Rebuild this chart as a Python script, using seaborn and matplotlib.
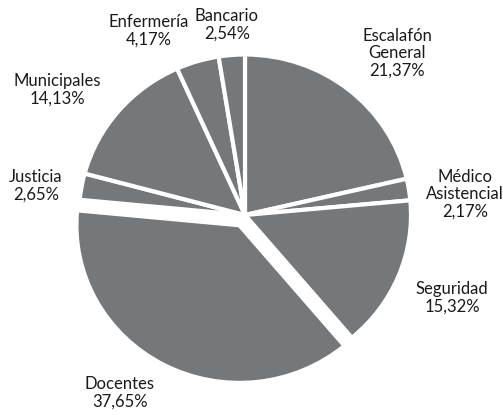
import matplotlib
matplotlib.use("Agg")
import matplotlib.pyplot as plt
import seaborn as sns

# Datos (porcentajes por sector)
sectores = ["Escalafón\nGeneral", "Médico\nAsistencial", "Seguridad", "Docentes",
            "Justicia", "Municipales", "Enfermería", "Bancario"]
porcentajes = [21.37, 2.17, 15.32, 37.65, 2.65, 14.13, 4.17, 2.54]
destacado = "Docentes"

# posición de las etiquetas (en píxeles desde arriba a la izquierda)
pos_etiquetas = [(397, 53), (465, 194), (452, 298), (120, 393),
                 (36, 186), (57, 90), (149, 31), (227, 25)]

sns.set_theme(style="white")
plt.rcParams['font.family'] = ['Lato', 'DejaVu Sans']

ancho, alto = 503, 415
sy = 160.5 / 166          # la torta original es un poco más ancha que alta
radio = 166
centro = (245, (alto - 215) / sy)

etiquetas = [f"{s}\n{p:.2f}%".replace('.', ',') for s, p in zip(sectores, porcentajes)]
# explode de matplotlib va en unidades de datos
explode = [12 if s == destacado else 0 for s in sectores]

fig = plt.figure(figsize=(ancho / 100, alto / 100), dpi=100)
ax = fig.add_axes([0, 0, 1, 1])

cunas, _ = ax.pie(
    porcentajes,
    explode=explode,
    startangle=90,
    counterclock=False,
    center=centro,
    radius=radio,
    colors=["#75787b"] * len(porcentajes),
    wedgeprops=dict(edgecolor="white", linewidth=3),
)
# la porción destacada es algo más chica en el original
cunas[sectores.index(destacado)].set_radius(radio - 3)

for txt, (px, py) in zip(etiquetas, pos_etiquetas):
    ax.text(px, (alto - py) / sy, txt, ha="center", va="center", fontsize=12,
            color="#1a1a1a", linespacing=1.1)

ax.set_xlim(0, ancho)
ax.set_ylim(0, alto / sy)
ax.set_aspect("auto")
ax.axis("off")

fig.savefig("out.png", dpi=100)
